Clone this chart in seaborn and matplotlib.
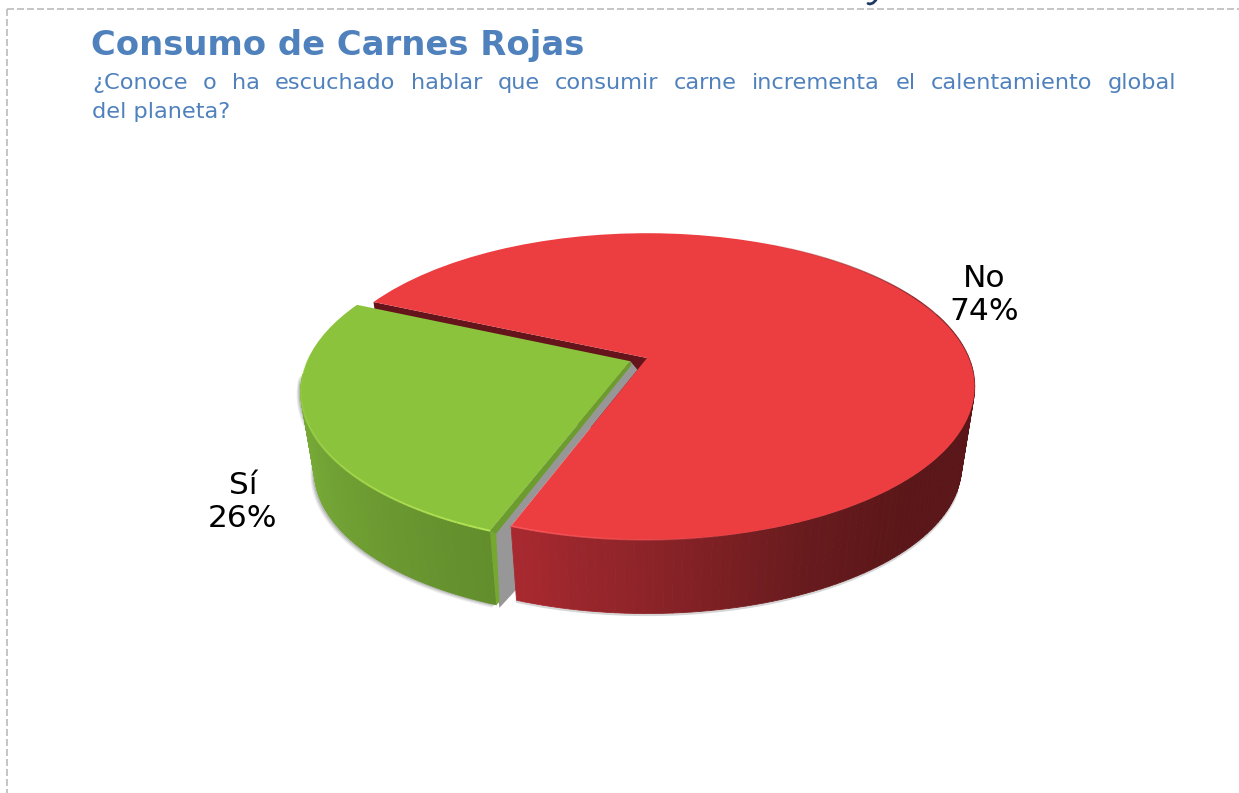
#!/usr/bin/env python
# -*- coding: utf-8 -*-
"""Consumo de Carnes Rojas - tilted 3D style pie built on ax.pie"""

import numpy as np
import matplotlib
matplotlib.use('Agg')
import matplotlib.pyplot as plt
from matplotlib.transforms import Transform
import seaborn as sns

# Data
labels = ['Sí', 'No']
values = [26, 74]

title = 'Consumo de Carnes Rojas'
question_line1 = '¿Conoce o ha escuchado hablar que consumir carne incrementa el calentamiento global'
question_line2 = 'del planeta?'

# Colours
BLUE = '#4F81BD'
top_colors = ['#8BC43C', '#EC3D40']
green_wall = ['#7CB23A', '#74A636', '#6C9A31', '#628E2C']
red_wall = ['#A7292F', '#8A2328', '#6A1B1E', '#5A1618', '#5A1618', '#5A1618', '#5A1618']

# Geometry of the tilted disc, in pixels
W, H = 1239, 793
APEX_X, APEX_Y = 647, 358
HALF_X, HALF_Y = 322, 148
TILT = 0.186
WALL_DROP = 81
WALL_SCALE = 0.96

sns.set_theme(style='white')
plt.rcParams['font.family'] = ['DejaVu Sans']


class DiscProjection(Transform):
    """Perspective view of the unit pie disc"""
    input_dims = 2
    output_dims = 2

    def __init__(self, drop=0.0, scale=1.0):
        super().__init__()
        self.drop = drop
        self.scale = scale

    def transform_non_affine(self, values):
        u, v = np.asarray(values).T
        w = 1 + TILT * v
        x = APEX_X + self.scale * HALF_X * u / w
        y = APEX_Y + self.drop - self.scale * HALF_Y * v / w
        return np.column_stack([x, y])


top = DiscProjection()
bottom = DiscProjection(WALL_DROP, WALL_SCALE)


def arc(wedge, t1, t2, n=2):
    th = np.radians(np.linspace(t1, t2, n))
    cx, cy = wedge.center
    return np.column_stack([cx + wedge.r * np.cos(th), cy + wedge.r * np.sin(th)])


fig = plt.figure(figsize=(W / 100, H / 100), dpi=100)
ax = fig.add_axes([0, 0, 1, 1])

wedges, _ = ax.pie(values, colors=top_colors, startangle=156, explode=[0.056, 0],
                   wedgeprops={'linewidth': 0})
ax.set(xlim=(0, W), ylim=(H, 0), aspect='auto')
ax.set_axis_off()

green, red = wedges
green_end = green.theta2
red_start = red.theta1
for w, z in zip(wedges, [6, 9]):
    w.set_transform(top + ax.transData)
    w.set_zorder(z)
    w.set_clip_on(False)

# soft shadow under the walls
for dx, dy, a in [(-4, 3, 0.10), (-3, 2, 0.15), (-2, 1, 0.20)]:
    pts = np.vstack([top.transform_non_affine(arc(green, 185, green_end, 80)),
                     bottom.transform_non_affine(arc(green, green_end, 185, 80))])
    ax.fill(pts[:, 0] + dx, pts[:, 1] + dy, color='#555555', alpha=a, lw=0, zorder=1)
pts = bottom.transform_non_affine(arc(red, red_start, 340, 80))
ax.plot(pts[:, 0], pts[:, 1] + 1.5, color='#999999', lw=1.5, alpha=0.4, zorder=1)

# dark inner wall of the red slice, seen through the gap at the back
back = np.vstack([top.transform_non_affine(arc(red, red.theta2, red.theta2)[:1]),
                  top.transform_non_affine(np.array([red.center])),
                  bottom.transform_non_affine(np.array([red.center])),
                  bottom.transform_non_affine(arc(red, red.theta2, red.theta2)[:1])])
ax.fill(back[:, 0], back[:, 1], color='#64141A', lw=0, zorder=2)

# grey gap between the two slices
g_apex = top.transform_non_affine(np.array([green.center]))[0]
g_corner = top.transform_non_affine(arc(green, green_end, green_end)[:1])[0]
g_foot = bottom.transform_non_affine(arc(green, green_end, green_end)[:1])[0]
r_apex = top.transform_non_affine(np.array([red.center]))[0]
r_corner = top.transform_non_affine(arc(red, red_start, red_start)[:1])[0]
r_foot = bottom.transform_non_affine(arc(red, red_start, red_start)[:1])[0]
notch = r_apex + 0.07 * (r_corner - r_apex)
gap = np.array([g_apex, notch, r_corner, r_foot + [0, -11], g_foot + [3, 3], g_corner])
ax.fill(gap[:, 0], gap[:, 1], color='#979797', lw=0, zorder=3)


def draw_wall(wedge, t1, t2, stops, z, n=90):
    shades = sns.blend_palette(stops, n)
    edges = np.linspace(t1, t2, n + 1)
    for i in range(n):
        a = top.transform_non_affine(arc(wedge, edges[i], edges[i + 1]))
        b = bottom.transform_non_affine(arc(wedge, edges[i + 1], edges[i]))
        quad = np.vstack([a, b])
        ax.fill(quad[:, 0], quad[:, 1], color=shades[i], lw=0.6, zorder=z)


def draw_rim(wedge, t1, t2, color, lw, z, fade_in=False, n=40):
    # rim line that fades out towards t2 (and in from t1 when asked)
    edges = np.linspace(t1, t2, n + 1)
    for i in range(n):
        pts = top.transform_non_affine(arc(wedge, edges[i], edges[i + 1]))
        f = 1 - i / n
        if fade_in:
            f = min(f, (i + 1) / n) * 2
        ax.plot(pts[:, 0], pts[:, 1], color=color, lw=lw, alpha=f,
                solid_capstyle='butt', zorder=z)


draw_wall(green, 185, green_end, green_wall, 4)
draw_wall(red, red_start, 378, red_wall, 7)

# bevel along the cut side of the green slice
bevel = np.array([g_apex, g_apex + [1, 4], g_corner + [6, 3], g_corner])
ax.fill(bevel[:, 0], bevel[:, 1], color='#6C9C2E', lw=0, zorder=7)
post = np.array([g_corner, g_corner + [6, 3], g_foot + [3, -3], g_foot])
ax.fill(post[:, 0], post[:, 1], color='#75A82F', lw=0, zorder=5)

# light rims on the front edge of each slice
draw_rim(green, green_end, 175, '#B4E455', 1.4, 8)
draw_rim(red, red_start, 285, '#F9565A', 1.2, 10)
draw_rim(red, 345, 425, '#8A2A2E', 0.9, 10, fade_in=True)

# slice labels
ax.text(243, 502, f'{labels[0]}\n{values[0]}%', ha='center', va='center',
        fontsize=22.5, color='black', zorder=12)
ax.text(984, 295, f'{labels[1]}\n{values[1]}%', ha='center', va='center',
        fontsize=22.5, color='black', zorder=12)

# title and justified question
ax.text(91, 55, title, fontsize=24.4, fontweight='bold', color=BLUE, va='baseline')

renderer = fig.canvas.get_renderer()
words = [ax.text(92, 89, word, fontsize=16.2, color=BLUE, va='baseline')
         for word in question_line1.split()]
widths = [t.get_window_extent(renderer).width for t in words]
space = (1176 - 92 - sum(widths)) / (len(words) - 1)
x = 92
for t, width in zip(words, widths):
    t.set_x(x)
    x += width + space
ax.text(92, 118, question_line2, fontsize=16.2, color=BLUE, va='baseline')

# dashed page border and the hook of a cut-off letter from the slide above
ax.plot([7, W], [9, 9], color='#BBBBBB', lw=1.2, ls=(0, (4.2, 1.8)), zorder=0)
ax.plot([7, 7], [9, H], color='#BBBBBB', lw=1.2, ls=(0, (4.2, 1.8)), zorder=0)
ax.plot([876, 873, 870, 868], [0, 3, 4, 3.5], color='#1F3864', lw=2, zorder=0)

plt.savefig('out.png', dpi=100)
